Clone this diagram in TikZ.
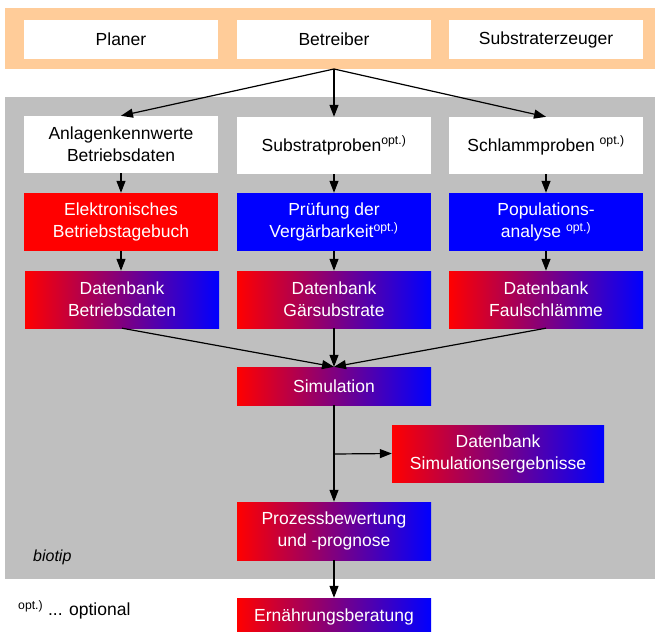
\documentclass[tikz,border=0pt]{standalone}
\usepackage{fontspec}
\setmainfont{Liberation Sans}
\usetikzlibrary{arrows.meta}

\newcommand{\optmark}{\textsuperscript{opt.)}}

\begin{document}
\begin{tikzpicture}[
			x=1pt, y=-1pt,
			every node/.style={font=\fontsize{17.5}{22}\selectfont, inner sep=0pt},
			band/.style={rectangle, fill=orange!40!white, minimum width=650pt, minimum height=61pt},
			area/.style={rectangle, fill=black!25, minimum width=650pt, minimum height=482pt},
			actor/.style={rectangle, fill=white, minimum width=194pt, minimum height=39pt},
			source/.style={rectangle, fill=white, minimum width=194pt, minimum height=57pt, align=center},
			redbox/.style={rectangle, fill=red, text=white, minimum width=194pt, minimum height=58pt, align=center},
			bluebox/.style={rectangle, fill=blue, text=white, minimum width=194pt, minimum height=58pt, align=center},
			database/.style={rectangle, left color=red, right color=blue, text=white, minimum width=194pt, minimum height=57pt, align=center},
			arrow/.style={-{Triangle[length=12pt,width=9pt]}, line width=1.2pt}
		]
		\useasboundingbox (0,0) rectangle (655,631);

		% backgrounds
		\node (akteure) [band] at (330,38.5) {};
		\node (biotipbox) [area] at (330,338) {};

		% actors
		\node (planer) [actor] at (121,39.5) {Planer};
		\node (betreiber) [actor] at (334,39.5) {Betreiber};
		\node (erzeuger) [actor] at (546,39.5) {Substraterzeuger};
		\coordinate (verteil) at (334,69);

		% inputs
		\node (anlage) [source] at (121,144.5) {Anlagenkennwerte\\Betriebsdaten};
		\node (substrat) [source] at (334,145.5) {Substratproben\optmark};
		\node (schlamm) [source] at (546,145.5) {Schlammproben\ \optmark};

		\node (tagebuch) [redbox] at (121,222) {Elektronisches\\Betriebstagebuch};
		\node (pruefung) [bluebox] at (334,222) {Prüfung der\\Vergärbarkeit\optmark};
		\node (population) [bluebox] at (546,222) {Populations-\\analyse\ \optmark};

		\node (dbbetrieb) [database] at (122,299.5) {Datenbank\\Betriebsdaten};
		\node (dbsubstrat) [database] at (334,299.5) {Datenbank\\Gärsubstrate};
		\node (dbschlamm) [database] at (546,299.5) {Datenbank\\Faulschlämme};

		% processing
		\node (sim) [database, minimum height=38pt] at (334,386) {Simulation};
		\node (dbsim) [database, minimum width=212pt] at (498,453.5) {Datenbank\\Simulationsergebnisse};
		\coordinate (abzweig) at (334,454);
		\node (bewertung) [database, minimum height=58pt] at (334,531) {Prozessbewertung\\und -prognose};
		\node (beratung) [database, minimum height=38pt] at (334,617) {Ernährungsberatung};

		\node (biotip) [anchor=west, font=\fontsize{16}{20}\selectfont\itshape] at (33,557) {biotip};
		\node (legende) [anchor=west] at (18,610) {\optmark\ ... optional};

		% arrows
		\draw[arrow] (verteil) -- (anlage.north);
		\draw[arrow] (verteil) -- (substrat.north);
		\draw[arrow] (verteil) -- (schlamm.north);
		\draw[arrow] (anlage) -- (tagebuch);
		\draw[arrow] (substrat) -- (pruefung);
		\draw[arrow] (schlamm) -- (population);
		\draw[arrow] (tagebuch.south -| anlage) -- (dbbetrieb.north -| anlage);
		\draw[arrow] (pruefung) -- (dbsubstrat);
		\draw[arrow] (population) -- (dbschlamm);
		\draw[arrow] (dbbetrieb.south) -- (sim.north);
		\draw[arrow] (dbsubstrat.south) -- (sim.north);
		\draw[arrow] (dbschlamm.south) -- (sim.north);
		\draw[arrow] (sim) -- (bewertung);
		\draw[arrow] (abzweig) -- (dbsim.west);
		\draw[arrow] (bewertung) -- (beratung);
	\end{tikzpicture}
\end{document}
